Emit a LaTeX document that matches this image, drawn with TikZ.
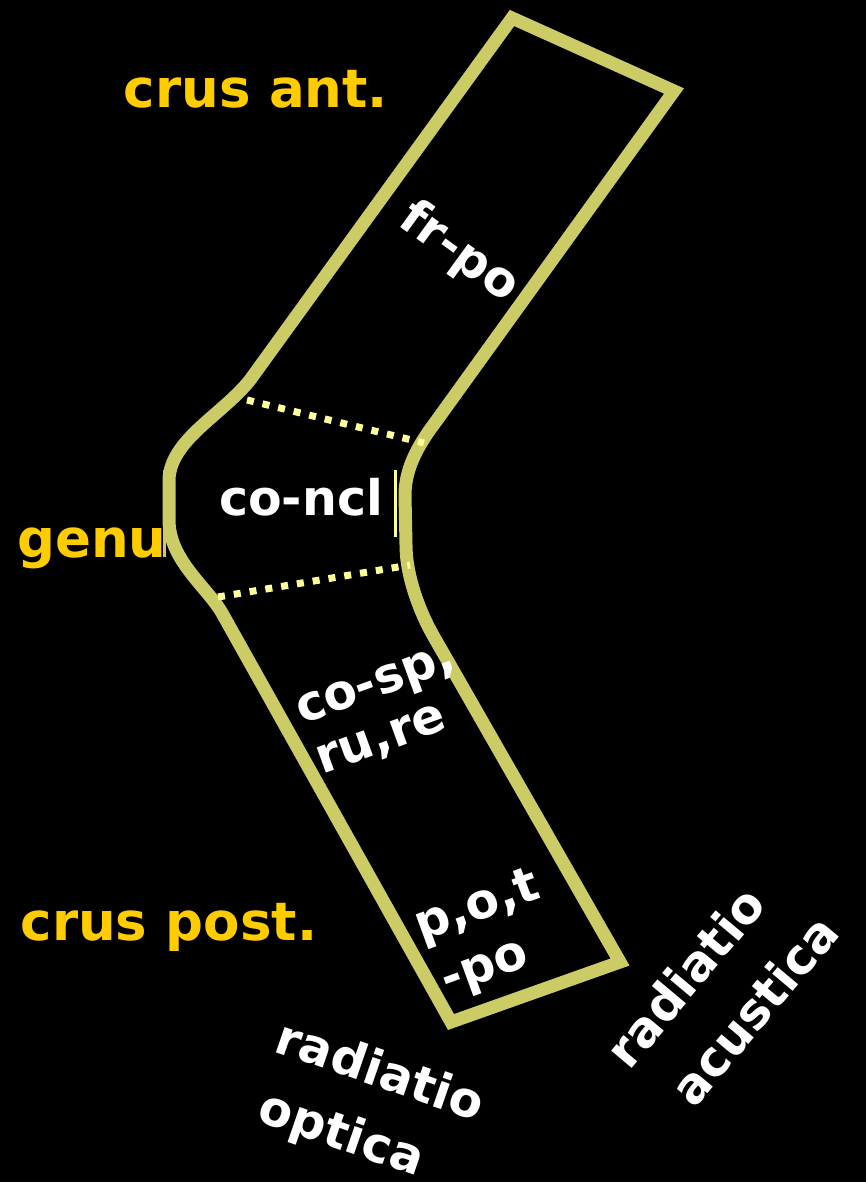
\documentclass[tikz,border=0pt]{standalone}
\usepackage{fontspec}
\setmainfont{DejaVu Sans}
\definecolor{outl}{RGB}{204,204,102}
\definecolor{dotc}{RGB}{255,255,153}
\definecolor{labyel}{RGB}{255,204,0}
\begin{document}
\begin{tikzpicture}[x=1pt,y=-1pt,
  outline/.style={draw=outl,line width=13pt,line join=miter},
  dotline/.style={draw=dotc,line width=7pt,dash pattern=on 7pt off 9pt},
  yellab/.style={text=labyel,font=\fontsize{53}{60}\selectfont\bfseries,inner sep=0pt},
  whitelab/.style={text=white,font=\fontsize{49}{56}\selectfont\bfseries,inner sep=0pt}]
\fill[black] (0,0) rectangle (866,1182);
\useasboundingbox (0,0) rectangle (866,1182);
% outline
\coordinate (tl) at (512,18);
\coordinate (tr) at (674,91);
\coordinate (br) at (620,962);
\coordinate (bl) at (451,1022);
\draw[outline] (tl) -- (tr) -- (437,420) .. controls (422,440) and (405,465) .. (405,495)
  -- (406,545) .. controls (406,575) and (419,611) .. (434,637)
  -- (br) -- (bl) -- (222,613) .. controls (207,587) and (169,560) .. (169,520)
  -- (169,480) .. controls (170,440) and (222,415) .. (250,380) -- cycle;
\draw[draw=outl,line width=3pt] (164.5,470) -- (164.5,557);
\draw[draw=dotc,line width=3pt] (395,470) -- (395,537);
% dotted dividers
\coordinate (d1a) at (247,400);
\coordinate (d1b) at (424,443);
\coordinate (d2a) at (218,597);
\coordinate (d2b) at (410,565);
\draw[dotline] (d1a) -- (d1b);
\draw[dotline] (d2a) -- (d2b);
% labels
\node[yellab,anchor=base] (crusant) at (256,108) {crus ant.};
\node[yellab,anchor=base] (genu) at (92,557) {genu};
\node[yellab,anchor=base] (cruspost) at (169,940) {crus post.};
\node[whitelab] (frpo) at (459,253) [rotate=-36] {fr-po};
\node[whitelab] (concl) at (301,497) {co-ncl};
\node[whitelab] (cosp) at (377,688) [rotate=20] {co-sp,};
\node[whitelab] (rure) at (382,742) [rotate=20] {ru,re};
\node[whitelab] (pot) at (478,908) [rotate=20] {p,o,t};
\node[whitelab] (po) at (486,972) [rotate=20] {-po};
\node[whitelab] (rad1) at (381,1069) [rotate=-19] {radiatio};
\node[whitelab] (optica) at (341,1136) [rotate=-19] {optica};
\node[whitelab] (rad2) at (685,977) [rotate=50] {radiatio};
\node[whitelab] (acustica) at (754,1010) [rotate=50] {acustica};
\end{tikzpicture}
\end{document}
